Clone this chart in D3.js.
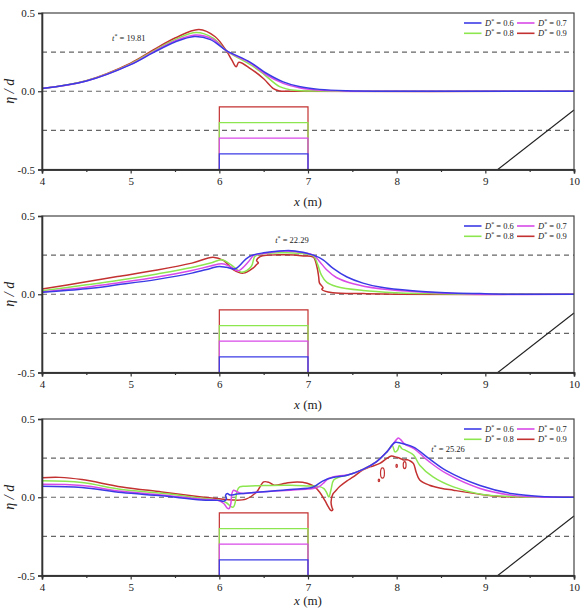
<!DOCTYPE html>
<html><head><meta charset="utf-8">
<script src="https://cdn.jsdelivr.net/npm/d3@7"></script>
<style>body{margin:0;background:#fff}svg{display:block}</style>
</head><body><svg id="c" width="585" height="610"></svg>
<script>
// ---------- data ----------
const xTicks = [4, 5, 6, 7, 8, 9, 10];
const xMinor = [4.5, 5.5, 6.5, 7.5, 8.5, 9.5];
const yTicks = [0.5, 0.0, -0.5];
const yTickLabels = ["0.5", "0.0", "-0.5"];
const dashLevels = [0.25, 0, -0.25];
const dStar = ["0.6", "0.7", "0.8", "0.9"];
const obstacleTop = [-0.4, -0.3, -0.2, -0.1];   // D* = 0.6, 0.7, 0.8, 0.9
const obstacleX = [6, 7];
const slopeLine = [[9.14, -0.5], [10, -0.12]];
const timeLabels = ["19.81", "22.29", "25.26"];
const timePos = [[4.79, 0.34], [6.63, 0.344], [8.39, 0.308]];

// panel 1 (t* = 19.81)
const p1D06 = [[4,0.017],[4.5,0.065],[5.0,0.17],[5.25,0.245],[5.5,0.315],[5.72,0.35],[5.9,0.33],[6.08,0.26],[6.35,0.185],[6.53,0.115],[6.72,0.06],[6.9,0.03],[7.13,0.012],[7.44,0.003],[7.8,0],[10,0]];
const p1D07 = [[4,0.017],[4.5,0.066],[5.0,0.172],[5.25,0.25],[5.5,0.322],[5.73,0.36],[5.92,0.335],[6.08,0.258],[6.35,0.18],[6.53,0.105],[6.72,0.05],[6.9,0.022],[7.1,0.008],[7.4,0.002],[7.7,0],[10,0]];
const p1D08 = [[4,0.017],[4.5,0.067],[5.0,0.175],[5.25,0.255],[5.5,0.33],[5.74,0.375],[5.93,0.34],[6.08,0.258],[6.35,0.17],[6.5,0.11],[6.68,0.03],[6.85,0.006],[7.1,0.001],[7.3,0],[10,0]];
const p1D09 = [[4,0.017],[4.5,0.068],[5.0,0.18],[5.25,0.262],[5.5,0.34],[5.77,0.395],[5.95,0.35],[6.08,0.258],[6.14,0.2],[6.19,0.156],[6.22,0.185],[6.35,0.145],[6.5,0.08],[6.61,0.017],[6.68,0.002],[6.8,0],[10,0]];

// panel 2 (t* = 22.29)
const p2D06 = [[4,0.012],[4.5,0.035],[4.85,0.06],[5.3,0.095],[5.69,0.135],[5.9,0.165],[6.0,0.178],[6.08,0.172],[6.18,0.163],[6.29,0.22],[6.36,0.247],[6.5,0.265],[6.68,0.277],[6.85,0.277],[7.06,0.25],[7.17,0.22],[7.28,0.167],[7.44,0.11],[7.62,0.071],[7.81,0.046],[8.18,0.022],[8.56,0.01],[8.94,0.004],[9.3,0],[10,0]];
const p2D07 = [[4,0.015],[4.5,0.045],[4.85,0.072],[5.3,0.11],[5.69,0.152],[5.9,0.18],[6.03,0.195],[6.12,0.178],[6.21,0.15],[6.33,0.209],[6.39,0.25],[6.5,0.26],[6.68,0.275],[6.85,0.273],[7.06,0.25],[7.13,0.21],[7.21,0.156],[7.32,0.107],[7.51,0.067],[7.81,0.035],[8.18,0.018],[8.56,0.006],[8.94,0],[10,0]];
const p2D08 = [[4,0.022],[4.5,0.06],[4.85,0.088],[5.3,0.13],[5.69,0.171],[5.9,0.2],[6.03,0.22],[6.13,0.19],[6.25,0.141],[6.36,0.177],[6.4,0.241],[6.46,0.255],[6.68,0.265],[6.9,0.262],[7.06,0.245],[7.11,0.188],[7.15,0.124],[7.21,0.078],[7.32,0.05],[7.62,0.024],[7.99,0.01],[8.37,0.004],[8.7,0],[10,0]];
const p2D09 = [[4,0.033],[4.5,0.08],[4.85,0.113],[5.3,0.155],[5.69,0.199],[5.93,0.237],[6.05,0.215],[6.16,0.156],[6.27,0.135],[6.38,0.167],[6.42,0.19],[6.44,0.2],[6.42,0.215],[6.46,0.241],[6.55,0.25],[6.75,0.252],[6.95,0.245],[7.06,0.237],[7.1,0.177],[7.12,0.113],[7.13,0.071],[7.16,0.05],[7.17,0.04],[7.155,0.032],[7.19,0.02],[7.28,0.01],[7.62,0.004],[8.0,0],[10,0]];

// panel 3 (t* = 25.26)
const p3D06 = [[4,0.07],[4.45,0.062],[4.9,0.03],[5.35,0.009],[5.8,-0.017],[6.0,-0.02],[6.05,-0.026],[6.08,-0.01],[6.07,0.012],[6.09,0.024],[6.12,0.014],[6.2,0.02],[6.5,0.035],[6.8,0.05],[7.06,0.066],[7.17,0.105],[7.28,0.126],[7.44,0.14],[7.62,0.178],[7.77,0.226],[7.89,0.29],[7.98,0.35],[8.05,0.345],[8.19,0.32],[8.37,0.245],[8.56,0.17],[8.94,0.075],[9.31,0.022],[9.69,0.003],[10,0]];
const p3D07 = [[4,0.083],[4.45,0.075],[4.9,0.038],[5.35,0.015],[5.8,-0.013],[5.98,-0.02],[6.05,-0.04],[6.09,-0.07],[6.11,-0.072],[6.13,-0.04],[6.14,0.02],[6.16,0.045],[6.2,0.035],[6.25,0.025],[6.5,0.035],[6.8,0.045],[7.0,0.052],[7.06,0.056],[7.13,0.07],[7.17,0.088],[7.23,0.12],[7.36,0.138],[7.44,0.142],[7.62,0.178],[7.77,0.226],[7.89,0.29],[7.96,0.34],[8.0,0.37],[8.02,0.378],[8.05,0.365],[8.09,0.34],[8.19,0.312],[8.37,0.226],[8.56,0.152],[8.94,0.056],[9.31,0.012],[9.6,0.002],[10,0]];
const p3D08 = [[4,0.105],[4.45,0.094],[4.9,0.049],[5.35,0.026],[5.8,-0.006],[6.0,-0.02],[6.08,-0.035],[6.13,-0.06],[6.16,-0.062],[6.18,-0.03],[6.2,0.04],[6.23,0.066],[6.3,0.07],[6.5,0.075],[6.8,0.077],[7.0,0.072],[7.13,0.068],[7.18,0.055],[7.21,0.03],[7.235,0.002],[7.26,0.05],[7.29,0.11],[7.36,0.13],[7.44,0.14],[7.62,0.178],[7.77,0.226],[7.89,0.29],[7.95,0.33],[7.98,0.29],[8.01,0.3],[8.03,0.33],[8.06,0.31],[8.1,0.3],[8.19,0.27],[8.26,0.205],[8.41,0.13],[8.64,0.066],[8.94,0.02],[9.3,0.005],[9.6,0],[10,0]];
const p3D09 = [[4,0.125],[4.2,0.127],[4.45,0.113],[4.9,0.066],[5.35,0.034],[5.8,0.002],[6.0,-0.01],[6.15,-0.018],[6.3,-0.012],[6.42,0.034],[6.5,0.098],[6.56,0.095],[6.62,0.077],[6.75,0.09],[6.88,0.098],[6.99,0.09],[7.06,0.072],[7.13,0.034],[7.19,-0.02],[7.23,-0.062],[7.26,-0.085],[7.28,-0.08],[7.27,-0.065],[7.26,-0.03],[7.28,0.02],[7.31,0.04],[7.36,0.07],[7.44,0.105],[7.51,0.13],[7.62,0.175],[7.7,0.194],[7.81,0.216],[7.89,0.248],[7.94,0.263],[8.0,0.255],[8.04,0.248],[8.08,0.238],[8.12,0.24],[8.15,0.233],[8.19,0.215],[8.22,0.16],[8.26,0.11],[8.37,0.077],[8.5,0.058],[8.64,0.045],[8.94,0.019],[9.13,0.006],[9.4,0.001],[10,0]];
// red spray drops in panel 3: [x, y, rx, ry]
const p3Drops = [[7.84,0.155,0.022,0.033],[7.80,0.108,0.008,0.008],[8.0,0.2,0.008,0.01],[8.09,0.205,0.016,0.022]];

const panelSeries = [[p1D06,p1D07,p1D08,p1D09],[p2D06,p2D07,p2D08,p2D09],[p3D06,p3D07,p3D08,p3D09]];

// ---------- styles / layout ----------
const colors = ["#3b3be6", "#d84ae8", "#8ce650", "#c33131"];
const left = 42, right = 574, ph = 156.5;
const tops = [13, 216, 419];
const serif = "Liberation Serif, Times New Roman, serif";

const svg = d3.select("#c");
const x = d3.scaleLinear().domain([4, 10]).range([left, right]);

tops.forEach((top, pi) => {
  const y = d3.scaleLinear().domain([-0.5, 0.5]).range([top + ph, top]);
  const g = svg.append("g");

  // dashed reference lines
  g.selectAll("line.dash").data(dashLevels).join("line")
    .attr("x1", x(4)).attr("x2", x(10))
    .attr("y1", d => y(d)).attr("y2", d => y(d))
    .attr("stroke", "#666").attr("stroke-width", 1.1).attr("stroke-dasharray", "5,4");

  // slope
  g.append("line")
    .attr("x1", x(slopeLine[0][0])).attr("y1", y(slopeLine[0][1]))
    .attr("x2", x(slopeLine[1][0])).attr("y2", y(slopeLine[1][1]))
    .attr("stroke", "#222").attr("stroke-width", 1.1);

  // obstacle outlines (red first so lower edges carry the other colours)
  [3, 2, 1, 0].forEach(i => {
    const t = obstacleTop[i];
    g.append("path")
      .attr("d", `M${x(obstacleX[0])},${y(-0.5)}V${y(t)}H${x(obstacleX[1])}V${y(-0.5)}`)
      .attr("fill", "none").attr("stroke", colors[i]).attr("stroke-width", 1.2);
  });

  // curves
  const line = d3.line().x(d => x(d[0])).y(d => y(d[1])).curve(d3.curveCatmullRom.alpha(0.5));
  [3, 2, 1, 0].forEach(i => {
    g.append("path").datum(panelSeries[pi][i]).attr("d", line)
      .attr("fill", "none").attr("stroke", colors[i]).attr("stroke-width", 1.5)
      .attr("stroke-linejoin", "round");
  });
  if (pi === 2) {
    g.selectAll("ellipse.drop").data(p3Drops).join("ellipse")
      .attr("cx", d => x(d[0])).attr("cy", d => y(d[1]))
      .attr("rx", d => x(d[0] + d[2]) - x(d[0])).attr("ry", d => y(0) - y(d[3]))
      .attr("fill", "none").attr("stroke", colors[3]).attr("stroke-width", 1.2);
  }

  // frame
  g.append("rect").attr("x", left).attr("y", top).attr("width", right - left).attr("height", ph)
    .attr("fill", "none").attr("stroke", "#444").attr("stroke-width", 1.2);

  // axes
  const ax = g.append("g").attr("transform", `translate(0,${top + ph})`)
    .call(d3.axisBottom(x).tickValues(xTicks).tickSize(4).tickPadding(4).tickFormat(d3.format("d")));
  const axm = g.append("g").attr("transform", `translate(0,${top + ph})`)
    .call(d3.axisBottom(x).tickValues(xMinor).tickSize(2.5).tickFormat(""));
  const ay = g.append("g").attr("transform", `translate(${left},0)`)
    .call(d3.axisLeft(y).tickValues(yTicks).tickSize(4).tickPadding(3).tickFormat((d, i) => yTickLabels[i]));
  [ax, axm, ay].forEach(a => {
    a.attr("font-family", serif);
    a.select(".domain").attr("stroke", "#333").attr("stroke-width", 1.6);
    a.selectAll(".tick line").attr("stroke", "#333").attr("stroke-width", 1.2);
    a.selectAll("text").attr("font-family", serif).attr("font-size", 11).attr("fill", "#222");
  });

  // axis titles
  const xt = g.append("text").attr("x", (left + right) / 2).attr("y", Math.min(top + ph + 36, 605))
    .attr("text-anchor", "middle").attr("font-family", serif).attr("font-size", 13).attr("fill", "#222");
  xt.append("tspan").attr("font-style", "italic").text("x");
  xt.append("tspan").text(" (m)");
  const yc = top + ph / 2;
  const yt = g.append("text").attr("transform", `translate(14,${yc}) rotate(-90)`)
    .attr("text-anchor", "middle").attr("font-family", serif).attr("font-size", 14)
    .attr("font-style", "italic").attr("fill", "#222");
  yt.text("η / d");

  // legend
  dStar.forEach((lab, i) => {
    const col = i % 2, row = Math.floor(i / 2);
    const lx = right - 110 + col * 53, ly = top + 10 + row * 10.3;
    g.append("line").attr("x1", lx).attr("x2", lx + 17.5).attr("y1", ly).attr("y2", ly)
      .attr("stroke", colors[i]).attr("stroke-width", 1.6);
    const t = g.append("text").attr("x", lx + 21).attr("y", ly + 3)
      .attr("font-family", serif).attr("font-size", 8.5).attr("fill", "#222");
    t.append("tspan").attr("font-style", "italic").text("D");
    t.append("tspan").attr("font-size", 6).attr("dy", -3).text("*");
    t.append("tspan").attr("dy", 3).text(" = " + lab);
  });

  // time annotation
  const tp = timePos[pi];
  const ta = g.append("text").attr("x", x(tp[0])).attr("y", y(tp[1]) + 3)
    .attr("font-family", serif).attr("font-size", 8.5).attr("fill", "#222");
  ta.append("tspan").attr("font-style", "italic").text("t");
  ta.append("tspan").attr("font-size", 6).attr("dy", -3).text("*");
  ta.append("tspan").attr("dy", 3).text(" = " + timeLabels[pi]);
});
</script></body></html>
